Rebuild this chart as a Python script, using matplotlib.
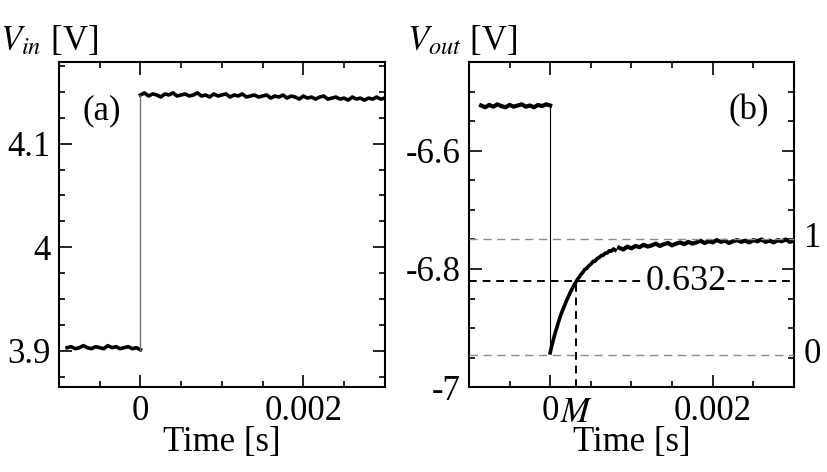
import numpy as np
import matplotlib
matplotlib.use("Agg")
import matplotlib.pyplot as plt
from matplotlib.ticker import MultipleLocator, FuncFormatter
import matplotlib.transforms as mtransforms

plt.rcParams['font.family'] = 'Liberation Serif'
plt.rcParams['mathtext.fontset'] = 'stix'
plt.rcParams['axes.unicode_minus'] = False

# ---- data ----
# (a) input step
t_in_pre = np.linspace(-0.0009, 0.0, 19)
v_in_pre = [3.903, 3.904, 3.902, 3.903, 3.905, 3.903, 3.902, 3.904, 3.903, 3.902,
            3.905, 3.903, 3.904, 3.902, 3.903, 3.904, 3.902, 3.903, 3.901]
t_in_post = np.linspace(0.0, 0.003, 61)
v_in_post = [4.147, 4.149, 4.146, 4.148, 4.147, 4.145, 4.148, 4.147, 4.149, 4.146,
             4.147, 4.148, 4.146, 4.147, 4.149, 4.146, 4.147, 4.145, 4.148, 4.146,
             4.147, 4.148, 4.145, 4.147, 4.146, 4.148, 4.145, 4.146, 4.147, 4.145,
             4.146, 4.147, 4.144, 4.146, 4.145, 4.147, 4.144, 4.146, 4.145, 4.143,
             4.146, 4.144, 4.145, 4.143, 4.145, 4.146, 4.143, 4.144, 4.145, 4.143,
             4.144, 4.142, 4.145, 4.143, 4.144, 4.142, 4.144, 4.143, 4.145, 4.143, 4.144]

# (b) output response
t_out_pre = np.linspace(-0.00085, 0.0, 18)
v_out_pre = [-6.523, -6.526, -6.522, -6.525, -6.521, -6.524, -6.526, -6.522, -6.525,
             -6.523, -6.521, -6.525, -6.523, -6.526, -6.522, -6.524, -6.521, -6.523]
t_out_rise = [0.0, 0.00002, 0.00005, 0.00008, 0.0001, 0.00013, 0.00015, 0.00018,
              0.0002, 0.00023, 0.00025, 0.00028, 0.0003, 0.00033, 0.00035, 0.00038,
              0.0004, 0.00043, 0.00045, 0.00048, 0.0005, 0.00053, 0.00055, 0.00058,
              0.0006, 0.00063, 0.00065, 0.00068, 0.0007, 0.00073, 0.00075, 0.00078, 0.0008]
v_out_rise = [-6.942, -6.930, -6.914, -6.900, -6.891, -6.878, -6.871, -6.861,
              -6.854, -6.845, -6.839, -6.831, -6.826, -6.819, -6.815, -6.809,
              -6.806, -6.800, -6.799, -6.794, -6.792, -6.787, -6.787, -6.782,
              -6.781, -6.777, -6.777, -6.773, -6.773, -6.769, -6.770, -6.766, -6.768]
t_out_flat = np.linspace(0.00085, 0.003, 44)
v_out_flat = [-6.764, -6.767, -6.762, -6.765, -6.761, -6.763, -6.759, -6.762, -6.760, -6.757,
              -6.761, -6.758, -6.756, -6.760, -6.757, -6.755, -6.758, -6.754, -6.757, -6.755,
              -6.752, -6.756, -6.753, -6.755, -6.751, -6.754, -6.752, -6.756, -6.753, -6.751,
              -6.754, -6.752, -6.755, -6.751, -6.753, -6.750, -6.754, -6.752, -6.755, -6.751,
              -6.753, -6.750, -6.754, -6.752]

level_0 = -6.945
level_1 = -6.749
level_632 = level_0 + 0.632 * (level_1 - level_0)
tau = 0.00032

fig = plt.figure(figsize=(8.27, 4.72), dpi=100)
ax1 = fig.add_axes([0.0713, 0.180, 0.394, 0.689])
ax2 = fig.add_axes([0.567, 0.180, 0.393, 0.689])

fs = 25
fmt = FuncFormatter(lambda v, p: '%g' % round(v, 6))


def style(ax):
    for s in ax.spines.values():
        s.set_linewidth(1.5)
    ax.tick_params(which='both', direction='in', top=True, right=True,
                   labelsize=fs, width=1.2)
    ax.tick_params(which='major', length=9, pad=6)
    ax.tick_params(which='minor', length=4.5)
    ax.xaxis.set_major_locator(MultipleLocator(0.002))
    ax.xaxis.set_minor_locator(MultipleLocator(0.0005))
    ax.xaxis.set_major_formatter(fmt)
    ax.yaxis.set_major_formatter(fmt)
    ax.set_xlim(-0.001, 0.003)
    ax.set_xlabel('Time [s]', fontsize=fs, labelpad=-2)


# ---- (a) ----
ax1.plot(t_in_pre, v_in_pre, color='k', lw=2.6)
ax1.plot(t_in_post, v_in_post, color='k', lw=2.6)
ax1.plot([0, 0], [v_in_pre[-1], v_in_post[0]], color='0.45', lw=1.0)
style(ax1)
ax1.set_ylim(3.865, 4.179)
ax1.yaxis.set_major_locator(MultipleLocator(0.1))
ax1.yaxis.set_minor_locator(MultipleLocator(0.025))
ax1.text(0.13, 0.85, '(a)', transform=ax1.transAxes, fontsize=fs,
         ha='center', va='center')
fig.text(0.0, 0.894, r'$V_{in}$ [V]', fontsize=fs, va='baseline')

# ---- (b) ----
ax2.plot(t_out_pre, v_out_pre, color='k', lw=3.0)
ax2.plot(t_out_rise, v_out_rise, color='k', lw=2.6)
ax2.plot(t_out_flat, v_out_flat, color='k', lw=3.0)
ax2.plot([0, 0], [v_out_pre[-1], v_out_rise[0]], color='k', lw=0.8)
style(ax2)
ax2.set_ylim(-7.0, -6.449)
ax2.yaxis.set_major_locator(MultipleLocator(0.2))
ax2.yaxis.set_minor_locator(MultipleLocator(0.05))

ax2.axhline(level_1, color='0.55', lw=1.0, ls=(0, (6, 4)), zorder=3)
ax2.axhline(level_0, color='0.55', lw=1.0, ls=(0, (6, 4)), zorder=3)
ax2.axhline(level_632, color='k', lw=1.4, ls=(0, (4, 3)), zorder=3)
ax2.plot([tau, tau], [-7.0, level_632], color='k', lw=1.4, ls=(0, (4, 3)), zorder=3)
ax2.text(0.00167, level_632, '0.632', fontsize=26, ha='center', va='center',
         zorder=5, bbox=dict(facecolor='white', edgecolor='none', pad=0.5))

trans = mtransforms.blended_transform_factory(ax2.transAxes, ax2.transData)
ax2.text(1.03, level_1, '1', transform=trans, fontsize=fs, ha='left', va='center')
ax2.text(1.03, level_0, '0', transform=trans, fontsize=fs, ha='left', va='center')
transx = mtransforms.blended_transform_factory(ax2.transData, ax2.transAxes)
ax2.text(tau, -0.03, '$M$', transform=transx, fontsize=fs, ha='center', va='top')
ax2.text(0.86, 0.85, '(b)', transform=ax2.transAxes, fontsize=fs,
         ha='center', va='center')
fig.text(0.492, 0.894, r'$V_{out}$ [V]', fontsize=fs, va='baseline')

fig.savefig('out.png', dpi=100)
